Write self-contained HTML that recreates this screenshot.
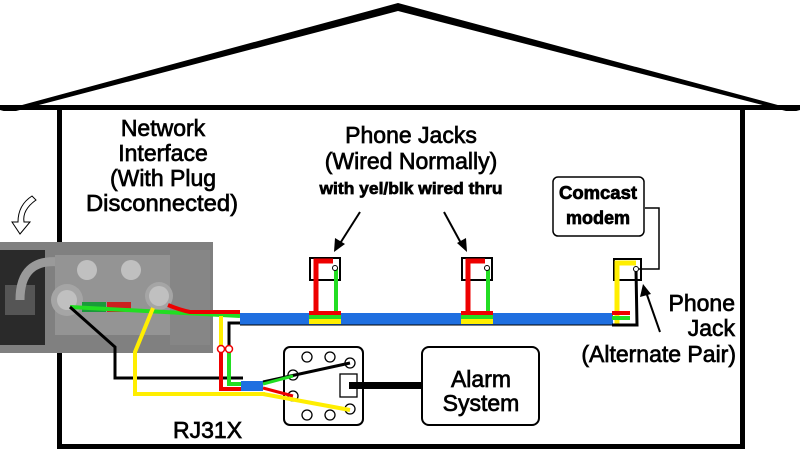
<!DOCTYPE html>
<html><head><meta charset="utf-8"><style>
html,body{margin:0;padding:0;background:#fff;width:800px;height:452px;overflow:hidden}
svg{display:block}
text{font-family:"Liberation Sans",Arial,sans-serif;fill:#000;stroke:#000;stroke-width:0.7}
</style></head><body>
<svg width="800" height="452" viewBox="0 0 800 452">
<!-- roof -->
<polygon points="0,111 398,3 800,111 786,111 398,11 16,111" fill="#000"/>
<rect x="0" y="105" width="800" height="5" fill="#000"/>
<!-- walls -->
<rect x="57" y="107" width="5" height="342" fill="#000"/>
<rect x="740" y="107" width="5" height="342" fill="#000"/>
<rect x="57" y="444" width="688" height="5" fill="#000"/>

<!-- photo -->
<rect x="0" y="242" width="213" height="111" fill="#808080"/>
<rect x="0" y="250" width="45" height="95" fill="#2a2a2a"/>
<rect x="5" y="285" width="30" height="30" fill="#555"/>
<path d="M20,300 Q20,258 60,262" stroke="#9a9a9a" stroke-width="9" fill="none"/>
<rect x="55" y="255" width="120" height="80" fill="#949494"/>
<rect x="170" y="250" width="40" height="95" fill="#868686"/>
<circle cx="67" cy="300" r="16" fill="#a5a5a5"/>
<circle cx="67" cy="300" r="10" fill="#c0c0c0"/>
<circle cx="87" cy="270" r="10" fill="#c0c0c0"/>
<circle cx="131" cy="270" r="10" fill="#c0c0c0"/>
<circle cx="159" cy="296" r="14" fill="#a5a5a5"/>
<circle cx="159" cy="296" r="10" fill="#c0c0c0"/>
<rect x="82" y="302" width="24" height="10" fill="#1a9a3a"/>
<rect x="107" y="302" width="24" height="10" fill="#cc2020"/>
<!-- curved arrow -->
<path d="M36,200 Q22,210 24,222 L30,222 L20,234 L12,222 L18,222 Q18,205 32,196 Z" fill="#fff" stroke="#000" stroke-width="1"/>

<!-- wires from NI -->
<polyline points="70,307 240,316" stroke="#22dd22" stroke-width="4" fill="none"/>
<path d="M168,305 Q180,310 190,312 L240,312" stroke="#ee0000" stroke-width="4" fill="none"/>
<polyline points="70,307 115,347 115,378 243,378" stroke="#000" stroke-width="3" fill="none"/>
<polyline points="153,308 135,352 135,394 265,394" stroke="#ffee00" stroke-width="4" fill="none"/>
<polyline points="221,316 221,350" stroke="#ffee00" stroke-width="4" fill="none"/>
<polyline points="221,350 221,389 243,389" stroke="#ee0000" stroke-width="4" fill="none"/>
<polyline points="242,323 229,323 229,350" stroke="#000" stroke-width="3" fill="none"/>
<polyline points="229,350 229,384 243,384" stroke="#22dd22" stroke-width="4" fill="none"/>
<circle cx="221" cy="349" r="3.5" fill="#fff" stroke="#e00" stroke-width="1.5"/>
<circle cx="229" cy="349" r="3.5" fill="#fff" stroke="#e00" stroke-width="1.5"/>
<rect x="241" y="381" width="22" height="10" fill="#1f6fe0"/>

<!-- blue cable -->
<rect x="240" y="313" width="373" height="12" fill="#1f6fe0"/>
<line x1="240" y1="325" x2="613" y2="325" stroke="#000" stroke-width="1"/>

<g>
<rect x="310" y="258" width="30" height="22" fill="none" stroke="#000" stroke-width="2"/>
<polyline points="316,318 316,261 333,261" stroke="#ee0000" stroke-width="5" fill="none"/>
<line x1="336" y1="268" x2="336" y2="318" stroke="#22dd22" stroke-width="4"/>
<circle cx="335" cy="268" r="2.5" fill="#fff" stroke="#000"/>
<rect x="309" y="311" width="32" height="4" fill="#ee0000"/>
<rect x="309" y="315" width="32" height="4" fill="#22dd22"/>
<rect x="309" y="319" width="32" height="5" fill="#ffee00"/>
</g>
<g transform="translate(152,0)">
<rect x="310" y="258" width="30" height="22" fill="none" stroke="#000" stroke-width="2"/>
<polyline points="316,318 316,261 333,261" stroke="#ee0000" stroke-width="5" fill="none"/>
<line x1="336" y1="268" x2="336" y2="318" stroke="#22dd22" stroke-width="4"/>
<circle cx="335" cy="268" r="2.5" fill="#fff" stroke="#000"/>
<rect x="309" y="311" width="32" height="4" fill="#ee0000"/>
<rect x="309" y="315" width="32" height="4" fill="#22dd22"/>
<rect x="309" y="319" width="32" height="5" fill="#ffee00"/>
</g>
<rect x="614" y="259" width="27" height="21" fill="none" stroke="#000" stroke-width="2"/>
<polyline points="617,325 617,263 636,263" stroke="#ffee00" stroke-width="5" fill="none"/>
<polyline points="636,270 637,325 612,325" stroke="#000" stroke-width="3" fill="none"/>
<circle cx="636" cy="269" r="2.5" fill="#fff" stroke="#000"/>
<rect x="612" y="311" width="18" height="4" fill="#ee0000"/>
<rect x="612" y="316" width="18" height="4" fill="#22dd22"/>
<polyline points="639,269 659,269 659,208 645,208" stroke="#000" stroke-width="1.5" fill="none"/>

<g stroke="#000" stroke-width="2" fill="#000">
<line x1="360" y1="212" x2="339" y2="245"/>
<polygon points="334,252 335,238 345,244" stroke="none"/>
<line x1="444" y1="212" x2="462" y2="245"/>
<polygon points="467,252 457,243 466,238" stroke="none"/>
<line x1="660" y1="332" x2="646" y2="292"/>
<polygon points="643,284 640,297 651,294" stroke="none"/>
</g>

<rect x="553" y="177" width="91" height="59" rx="5" fill="#fff" stroke="#000" stroke-width="1.5"/>
<text x="598" y="199" font-size="18" font-weight="bold" text-anchor="middle" textLength="78" lengthAdjust="spacingAndGlyphs">Comcast</text>
<text x="598" y="224" font-size="18" font-weight="bold" text-anchor="middle">modem</text>

<rect x="284" y="347" width="79" height="78" rx="6" fill="#fff" stroke="#000" stroke-width="2"/>
<g fill="#fff" stroke="#000" stroke-width="1.3">
<circle cx="307" cy="357" r="5"/><circle cx="330" cy="357" r="5"/><circle cx="350" cy="363" r="5"/>
<circle cx="293" cy="375" r="5"/><circle cx="293" cy="396" r="5"/>
<circle cx="307" cy="415" r="5"/><circle cx="330" cy="415" r="5"/><circle cx="350" cy="409" r="5"/>
<rect x="340" y="374" width="17" height="23"/>
</g>
<line x1="263" y1="382" x2="350" y2="363" stroke="#000" stroke-width="3"/>
<line x1="263" y1="384" x2="293" y2="376" stroke="#22dd22" stroke-width="3"/>
<line x1="263" y1="388" x2="293" y2="396" stroke="#ee0000" stroke-width="3"/>
<line x1="263" y1="394" x2="350" y2="410" stroke="#ffee00" stroke-width="4"/>
<rect x="349" y="382" width="74" height="7" fill="#000"/>
<rect x="422" y="347" width="117" height="78" rx="7" fill="#fff" stroke="#000" stroke-width="2"/>
<text x="481" y="387" font-size="23" text-anchor="middle">Alarm</text>
<text x="481" y="411" font-size="23" text-anchor="middle">System</text>
<text x="173" y="438" font-size="23">RJ31X</text>

<g font-size="23" text-anchor="middle">
<text x="163" y="136">Network</text>
<text x="163" y="161">Interface</text>
<text x="163" y="186">(With Plug</text>
<text x="162" y="211" textLength="152" lengthAdjust="spacingAndGlyphs">Disconnected)</text>
<text x="411" y="143">Phone Jacks</text>
<text x="411" y="169">(Wired Normally)</text>
</g>
<text x="411" y="194" font-size="17" font-weight="bold" text-anchor="middle" textLength="183" lengthAdjust="spacingAndGlyphs">with yel/blk wired thru</text>
<g font-size="23" text-anchor="end">
<text x="735" y="311">Phone</text>
<text x="735" y="336">Jack</text>
<text x="736" y="362">(Alternate Pair)</text>
</g>
</svg>
</body></html>
